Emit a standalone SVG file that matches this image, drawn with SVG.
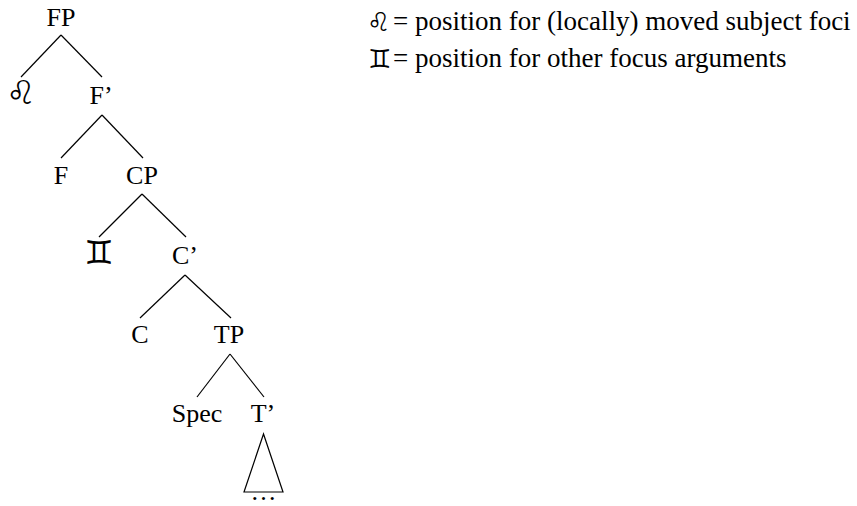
<svg xmlns="http://www.w3.org/2000/svg" width="857" height="506" viewBox="0 0 857 506">
<style>
text{font-family:"Liberation Serif","Times New Roman",serif;font-size:26px;fill:#000;}
.n{text-anchor:middle;}
.sym{font-family:"DejaVu Sans","Noto Sans",sans-serif;}
.big{font-size:33px;}
.small{font-size:26px;}
.leg{font-size:27px;}
.e line,.e polygon{stroke:#000;stroke-width:1.2;fill:none;}
</style>
<rect width="857" height="506" fill="#fff"/>
<g id="connectors" class="e">
<line x1="61" y1="35" x2="21" y2="77"/>
<line x1="61" y1="35" x2="102" y2="77"/>
<line x1="102" y1="115" x2="61" y2="158"/>
<line x1="102" y1="115" x2="143" y2="158"/>
<line x1="142" y1="194" x2="99" y2="237"/>
<line x1="142" y1="194" x2="186" y2="237"/>
<line x1="185" y1="275" x2="140" y2="318"/>
<line x1="185" y1="275" x2="231" y2="318"/>
<line x1="230" y1="354" x2="197" y2="397"/>
<line x1="230" y1="354" x2="264" y2="397"/>
<polygon points="263.5,434 244,492 283,492"/>
</g>
<g id="FP"><text class="n" x="61" y="26">FP</text></g>
<g id="leo"><text class="n sym big" x="21" y="104">♌</text></g>
<g id="Fbar"><text class="n" x="101" y="104">F’</text></g>
<g id="F"><text class="n" x="61" y="184">F</text></g>
<g id="CP"><text class="n" x="142" y="184">CP</text></g>
<g id="gemini"><text class="n sym big" x="99" y="264">♊</text></g>
<g id="Cbar"><text class="n" x="185" y="264">C’</text></g>
<g id="C"><text class="n" x="140" y="343">C</text></g>
<g id="TP"><text class="n" x="229" y="343">TP</text></g>
<g id="Spec"><text class="n" x="197" y="422">Spec</text></g>
<g id="Tbar"><text class="n" x="263" y="422">T’</text></g>
<g id="dots"><text class="n" x="263.5" y="500">…</text></g>
<g id="legend">
<text class="sym small" x="367" y="31">♌</text>
<text class="leg" x="393" y="30">= position for (locally) moved subject foci</text>
<text class="sym small" x="368" y="68">♊</text>
<text class="leg" x="393" y="67">= position for other focus arguments</text>
</g>
</svg>
